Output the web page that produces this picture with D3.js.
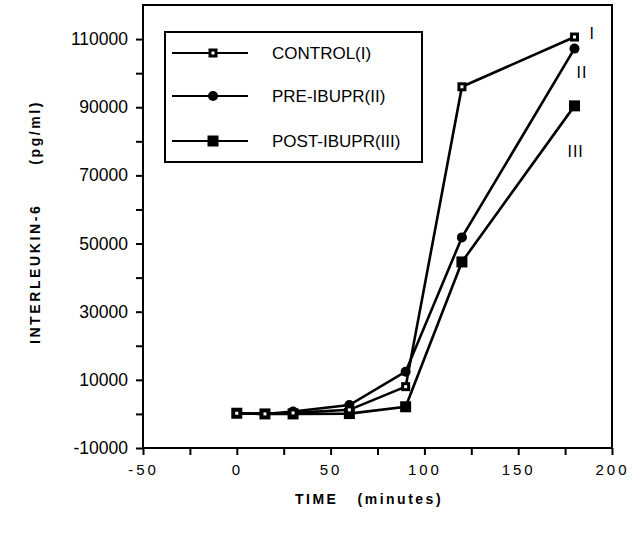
<!DOCTYPE html>
<html>
<head>
<meta charset="utf-8">
<script src="https://cdn.jsdelivr.net/npm/d3@7"></script>
<style>
  body { margin: 0; background: #fff; }
  text { font-family: "Liberation Sans", Arial, sans-serif; fill: #000; }
</style>
</head>
<body>
<div id="chart"></div>
<script>
// data
var times = [0, 15, 30, 60, 90, 120, 180];
var control = [200, 0, 300, 1200, 8000, 96000, 110600];
var preIbupr = [200, 0, 700, 2600, 12400, 51800, 107200];
var postIbupr = [200, 0, 0, 100, 2100, 44600, 90400];
var seriesNames = ["CONTROL(I)", "PRE-IBUPR(II)", "POST-IBUPR(III)"];
var endLabels = ["I", "II", "III"];
var xTicks = [-50, 0, 50, 100, 150, 200];
var yTicks = [-10000, 10000, 30000, 50000, 70000, 90000, 110000];

var width = 640, height = 539;
var svg = d3.select("#chart").append("svg")
    .attr("width", width)
    .attr("height", height);

var x = d3.scaleLinear().domain([-50, 200]).range([143, 612]);
var y = d3.scaleLinear().domain([-10000, 120000]).range([448, 5]);

// frame
svg.append("rect")
    .attr("x", x(-50)).attr("y", y(120000))
    .attr("width", x(200) - x(-50)).attr("height", y(-10000) - y(120000))
    .attr("fill", "none").attr("stroke", "#000").attr("stroke-width", 2);

// x axis
var xAxis = d3.axisBottom(x)
    .tickValues(d3.range(-50, 201, 25))
    .tickSize(7).tickPadding(9)
    .tickFormat(function(d) { return xTicks.indexOf(d) >= 0 ? d : ""; });
var gx = svg.append("g").attr("transform", "translate(0," + y(-10000) + ")").call(xAxis);
gx.select(".domain").remove();
gx.selectAll("line").attr("stroke-width", 2);
gx.selectAll("text")
    .style("font-size", "15px")
    .style("letter-spacing", "3px");

// y axis
var yAxis = d3.axisLeft(y)
    .tickValues(d3.range(-10000, 110001, 10000))
    .tickSize(7).tickPadding(8)
    .tickFormat(function(d) { return yTicks.indexOf(d) >= 0 ? d : ""; });
var gy = svg.append("g").attr("transform", "translate(" + x(-50) + ",0)").call(yAxis);
gy.select(".domain").remove();
gy.selectAll("line").attr("stroke-width", 2);
gy.selectAll("text").style("font-size", "17.5px");

// axis titles
svg.append("text")
    .attr("x", 369).attr("y", 504)
    .attr("text-anchor", "middle")
    .style("font-size", "14px").style("font-weight", "bold")
    .style("letter-spacing", "2.5px")
    .style("white-space", "pre")
    .text("TIME   (minutes)");

svg.append("text")
    .attr("transform", "translate(40,222) rotate(-90)")
    .attr("text-anchor", "middle")
    .style("font-size", "14px").style("font-weight", "bold")
    .style("letter-spacing", "2.6px")
    .style("white-space", "pre")
    .text("INTERLEUKIN-6      (pg/ml)");

var series = [control, preIbupr, postIbupr];
var line = d3.line()
    .x(function(d, i) { return x(times[i]); })
    .y(function(d) { return y(d); });

function drawMarker(g, type, cx, cy) {
    if (type === 0) {
        g.append("rect").attr("x", cx - 4.5).attr("y", cy - 4.5)
            .attr("width", 9).attr("height", 9).attr("fill", "#000");
        g.append("rect").attr("x", cx - 1.5).attr("y", cy - 1.5)
            .attr("width", 3).attr("height", 3).attr("fill", "#fff");
    } else if (type === 1) {
        g.append("circle").attr("cx", cx).attr("cy", cy).attr("r", 5).attr("fill", "#000");
    } else {
        g.append("rect").attr("x", cx - 5.5).attr("y", cy - 5.5)
            .attr("width", 11).attr("height", 11).attr("fill", "#000");
    }
}

// draw post first so control sits on top
[2, 1, 0].forEach(function(s) {
    var g = svg.append("g");
    g.append("path")
        .datum(series[s])
        .attr("d", line)
        .attr("fill", "none")
        .attr("stroke", "#000")
        .attr("stroke-width", 2.6);
    series[s].forEach(function(v, i) {
        drawMarker(g, s, x(times[i]), y(v));
    });
});

// end labels
var labelOffsets = [[15, 2], [2, 29], [-7, 51]];
endLabels.forEach(function(t, s) {
    var last = series[s][series[s].length - 1];
    svg.append("text")
        .attr("x", x(180) + labelOffsets[s][0])
        .attr("y", y(last) + labelOffsets[s][1])
        .style("font-size", "16px")
        .style("letter-spacing", "1px")
        .text(t);
});

// legend
var legend = svg.append("g");
legend.append("rect")
    .attr("x", 165).attr("y", 32).attr("width", 257).attr("height", 130)
    .attr("fill", "#fff").attr("stroke", "#000").attr("stroke-width", 2);
var rowY = [53, 96, 141];
seriesNames.forEach(function(name, s) {
    legend.append("line")
        .attr("x1", 172).attr("x2", 248)
        .attr("y1", rowY[s]).attr("y2", rowY[s])
        .attr("stroke", "#000").attr("stroke-width", 2);
    drawMarker(legend, s, 213, rowY[s]);
    legend.append("text")
        .attr("x", 272).attr("y", rowY[s] + 6)
        .style("font-size", "17px")
        .text(name);
});
</script>
</body>
</html>
